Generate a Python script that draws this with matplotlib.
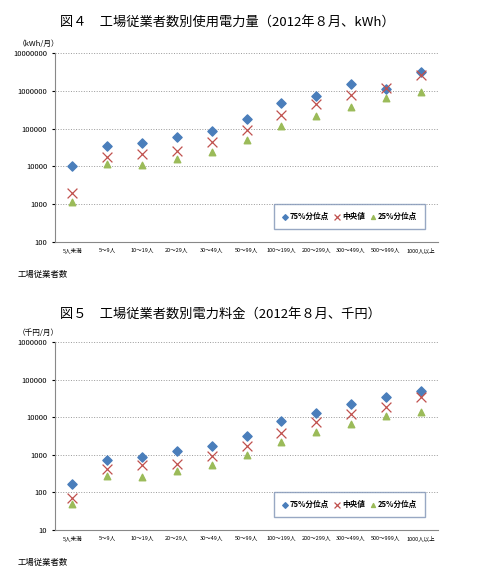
import matplotlib
matplotlib.use("Agg")
import matplotlib.pyplot as plt

plt.rcParams['font.family'] = ['Noto Sans CJK JP', 'DejaVu Sans']

categories = ["5人未満", "5～9人", "10～19人", "20～29人", "30～49人", "50～99人",
              "100～199人", "200～299人", "300～499人", "500～999人", "1000人以上"]
kwh_p75 = [10000, 34000, 42000, 60000, 87000, 175000, 470000, 720000, 1550000, 1100000, 3100000]
kwh_med = [2000, 18000, 21000, 26000, 44000, 93000, 230000, 450000, 750000, 1150000, 2600000]
kwh_p25 = [1150, 11500, 10800, 15500, 24000, 49000, 120000, 220000, 380000, 650000, 920000]
yen_p75 = [165, 720, 900, 1300, 1700, 3100, 8000, 13000, 22500, 35000, 50000]
yen_med = [70, 420, 520, 580, 950, 1750, 3900, 7500, 12500, 19000, 34000]
yen_p25 = [48, 270, 250, 360, 530, 1000, 2200, 4000, 6500, 10500, 13500]

fig = plt.figure(figsize=(5, 5.76), dpi=100)

def panel(rect, p75, med, p25, ylim, ticks, unit, title, ty):
    ax = fig.add_axes(rect)
    x = range(len(categories))
    ax.scatter(x, p75, marker='D', s=22, color='#4a7ebb', label='75%分位点', zorder=3)
    ax.scatter(x, med, marker='x', s=50, color='#c0504d', linewidths=0.9, label='中央値', zorder=3)
    ax.scatter(x, p25, marker='^', s=22, color='#9bbb59', label='25%分位点', zorder=3)
    ax.set_yscale('log')
    ax.set_ylim(*ylim)
    ax.set_xlim(-0.5, len(categories) - 0.5)
    ax.set_yticks(ticks)
    ax.set_yticklabels([str(t) for t in ticks], fontsize=5.5)
    ax.minorticks_off()
    ax.set_xticks(list(x))
    ax.set_xticklabels(categories, fontsize=4)
    ax.tick_params(axis='x', length=0, pad=4)
    ax.tick_params(axis='y', length=2)
    ax.grid(axis='y', linestyle=':', color='#999999', linewidth=0.7)
    for s in ['top', 'right']:
        ax.spines[s].set_visible(False)
    for s in ['left', 'bottom']:
        ax.spines[s].set_color('#888888')
    leg = ax.legend(loc='lower right', ncol=3, fontsize=5.5, handletextpad=0.1,
                    columnspacing=0.6, borderpad=1.0, fancybox=False, markerscale=0.6,
                    handlelength=1.0, prop={'weight': 'bold', 'size': 5.5},
                    bbox_to_anchor=(0.975, 0.05))
    leg.get_frame().set_edgecolor('#7f93b5')
    fig.text(0.035, rect[1] + rect[3] + 0.012, unit, fontsize=5.5)
    fig.text(0.035, rect[1] - 0.06, '工場従業者数', fontsize=6)
    fig.text(0.12, ty, title, fontsize=9.5)

panel([0.11, 0.580, 0.766, 0.328], kwh_p75, kwh_med, kwh_p25, (100, 10000000),
      [100, 1000, 10000, 100000, 1000000, 10000000], '（kWh/月）',
      '図４　工場従業者数別使用電力量（2012年８月、kWh）', 0.955)
panel([0.11, 0.080, 0.766, 0.326], yen_p75, yen_med, yen_p25, (10, 1000000),
      [10, 100, 1000, 10000, 100000, 1000000], '（千円/月）',
      '図５　工場従業者数別電力料金（2012年８月、千円）', 0.448)

fig.savefig('out.png', dpi=100)
